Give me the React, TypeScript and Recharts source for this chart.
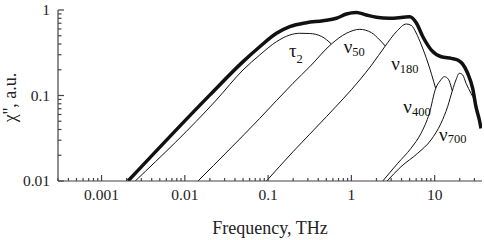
import React from 'react'
import { LineChart, Line, XAxis, YAxis, ReferenceDot } from 'recharts'

// susceptibility components, [frequency THz, chi'' a.u.]
const total = [
  [0.00208, 0.01], [0.0199, 0.101], [0.05, 0.249], [0.0793, 0.372], [0.126, 0.534],
  [0.182, 0.638], [0.288, 0.71], [0.456, 0.75], [0.661, 0.8], [0.871, 0.898],
  [1.148, 0.935], [1.51, 0.874], [2.0, 0.822], [2.88, 0.8], [4.16, 0.822],
  [5.01, 0.835], [6.03, 0.705], [7.24, 0.483], [9.13, 0.34], [12.0, 0.284],
  [15.9, 0.272], [18.9, 0.26], [21.7, 0.233], [24.9, 0.182], [28.6, 0.121],
  [31.3, 0.074], [34.4, 0.0517], [36.0, 0.0413],
]
const tau2 = [
  [0.00254, 0.01], [0.0239, 0.0886], [0.05, 0.199], [0.0793, 0.298], [0.126, 0.426],
  [0.182, 0.51], [0.239, 0.534], [0.316, 0.531], [0.44, 0.49], [0.575, 0.4],
]
const nu50 = [
  [0.0144, 0.01], [0.0793, 0.054], [0.199, 0.139], [0.316, 0.217], [0.575, 0.4],
  [0.871, 0.534], [1.26, 0.594], [1.74, 0.543], [2.19, 0.446], [2.55, 0.379],
]
const nu180 = [
  [0.0955, 0.01], [0.199, 0.022], [0.501, 0.0565], [1.26, 0.152], [1.75, 0.227],
  [2.55, 0.379], [3.47, 0.557], [4.57, 0.686], [5.25, 0.659], [6.0, 0.538],
  [6.92, 0.39], [8.24, 0.246], [10.28, 0.121],
]
const nu400 = [
  [2.38, 0.01], [3.6, 0.0161], [5.19, 0.0241], [6.85, 0.0361], [8.63, 0.0619],
  [10.28, 0.121], [11.6, 0.148], [13.1, 0.166], [14.6, 0.155], [16.2, 0.114],
]
const nu700 = [
  [2.69, 0.01], [3.94, 0.0147], [6.25, 0.0211], [9.03, 0.0302], [11.9, 0.0473],
  [14.3, 0.074], [16.4, 0.116], [18.0, 0.152], [19.8, 0.182], [21.7, 0.174],
  [23.8, 0.139], [27.3, 0.106], [30.2, 0.0863], [32.8, 0.0625],
]

// curve labels: symbol, subscript, anchor (frequency, value)
const curveLabels = [
  { sym: 'τ', sub: '2', f: 0.178, v: 0.282, subDy: 6 },
  { sym: 'ν', sub: '50', f: 0.81, v: 0.31, subDy: 2.5 },
  { sym: 'ν', sub: '180', f: 3.0, v: 0.199, subDy: 3 },
  { sym: 'ν', sub: '400', f: 4.2, v: 0.0619, subDy: 3 },
  { sym: 'ν', sub: '700', f: 11.3, v: 0.0294, subDy: 2.5 },
]

const X_DOMAIN = [0.0003, 37]
const Y_DOMAIN = [0.01, 1]
const X_MAJOR = [0.001, 0.01, 0.1, 1, 10]
const Y_MAJOR = [0.01, 0.1, 1]

const FONT = '"Liberation Serif", "Times New Roman", serif'
const AXIS = '#444'
const INK = '#111'

const decadeTicks = (lo: number, hi: number) => {
  const out: number[] = []
  for (let e = -4; e <= 1; e++) {
    for (let m = 1; m <= 9; m++) {
      const t = Number((m * Math.pow(10, e)).toPrecision(3))
      if (t >= lo && t <= hi) out.push(t)
    }
  }
  return out
}
const X_TICKS = decadeTicks(X_DOMAIN[0], X_DOMAIN[1])
const Y_TICKS = decadeTicks(Y_DOMAIN[0], Y_DOMAIN[1])

const toRows = (pts: number[][]) => pts.map(([f, v]) => ({ f, v }))

const XTick = (props: any) => {
  const { x, y, payload } = props
  const major = X_MAJOR.includes(payload.value)
  return (
    <g>
      <line x1={x} x2={x} y1={y} y2={y - (major ? 6 : 3)} stroke={AXIS} strokeWidth={1.2} />
      {major && (
        <text x={x} y={y + 19} textAnchor="middle" fontFamily={FONT} fontSize={15.5} fill="#222">
          {String(payload.value)}
        </text>
      )}
    </g>
  )
}

const YTick = (props: any) => {
  const { x, y, payload } = props
  const major = Y_MAJOR.includes(payload.value)
  return (
    <g>
      <line x1={x} x2={x + (major ? 6 : 3.5)} y1={y} y2={y} stroke={AXIS} strokeWidth={1.2} />
      {major && (
        <text x={x - 8} y={y + 5} textAnchor="end" fontFamily={FONT} fontSize={15.5} fill="#222">
          {String(payload.value)}
        </text>
      )}
    </g>
  )
}

const series = [
  { key: 'total', pts: total, width: 3.5 },
  { key: 'tau2', pts: tau2, width: 1 },
  { key: 'nu50', pts: nu50, width: 1 },
  { key: 'nu180', pts: nu180, width: 1 },
  { key: 'nu400', pts: nu400, width: 1 },
  { key: 'nu700', pts: nu700, width: 1 },
]

export default function App() {
  return (
    <div style={{ position: 'absolute', left: 0, top: 0, width: 484, height: 240, background: '#fff' }}>
      <LineChart width={484} height={240} margin={{ top: 10, right: 2, bottom: 0, left: 0 }}>
        <XAxis
          dataKey="f"
          type="number"
          scale="log"
          domain={X_DOMAIN}
          allowDataOverflow
          ticks={X_TICKS}
          interval={0}
          height={59}
          tickSize={0}
          tickMargin={0}
          tickLine={false}
          tick={<XTick />}
          axisLine={{ stroke: AXIS, strokeWidth: 1.2 }}
          label={{
            content: (p: any) => {
              const vb = p.viewBox
              return (
                <text x={vb.x + vb.width / 2} y={vb.y + 53} textAnchor="middle" fontFamily={FONT} fontSize={18} fill="#222">
                  Frequency, THz
                </text>
              )
            },
          }}
        />
        <YAxis
          type="number"
          scale="log"
          domain={Y_DOMAIN}
          allowDataOverflow
          ticks={Y_TICKS}
          interval={0}
          width={58}
          tickSize={0}
          tickMargin={0}
          tickLine={false}
          tick={<YTick />}
          axisLine={{ stroke: AXIS, strokeWidth: 1.2 }}
          label={{
            content: (p: any) => {
              const vb = p.viewBox
              const cx = vb.x + 16
              const cy = vb.y + vb.height / 2 + 2
              return (
                <text x={cx} y={cy} transform={`rotate(-90 ${cx} ${cy})`} textAnchor="middle" fontFamily={FONT} fontSize={18} fill="#222">
                  χ'', a.u.
                </text>
              )
            },
          }}
        />
        {series.map(s => (
          <Line
            key={s.key}
            data={toRows(s.pts)}
            dataKey="v"
            type="monotone"
            stroke={INK}
            strokeWidth={s.width}
            dot={false}
            activeDot={false}
            isAnimationActive={false}
          />
        ))}
        {curveLabels.map(l => (
          <ReferenceDot
            key={l.sub}
            x={l.f}
            y={l.v}
            r={1}
            fill="none"
            stroke="none"
            label={{
              content: (p: any) => {
                const vb = p.viewBox
                const x = vb.x + 1
                const y = vb.y + 1
                return (
                  <text x={x} y={y} fontFamily={FONT} fill="#111">
                    <tspan fontSize={19}>{l.sym}</tspan>
                    <tspan fontSize={12.5} dy={l.subDy}>{l.sub}</tspan>
                  </text>
                )
              },
            }}
          />
        ))}
      </LineChart>
    </div>
  )
}
